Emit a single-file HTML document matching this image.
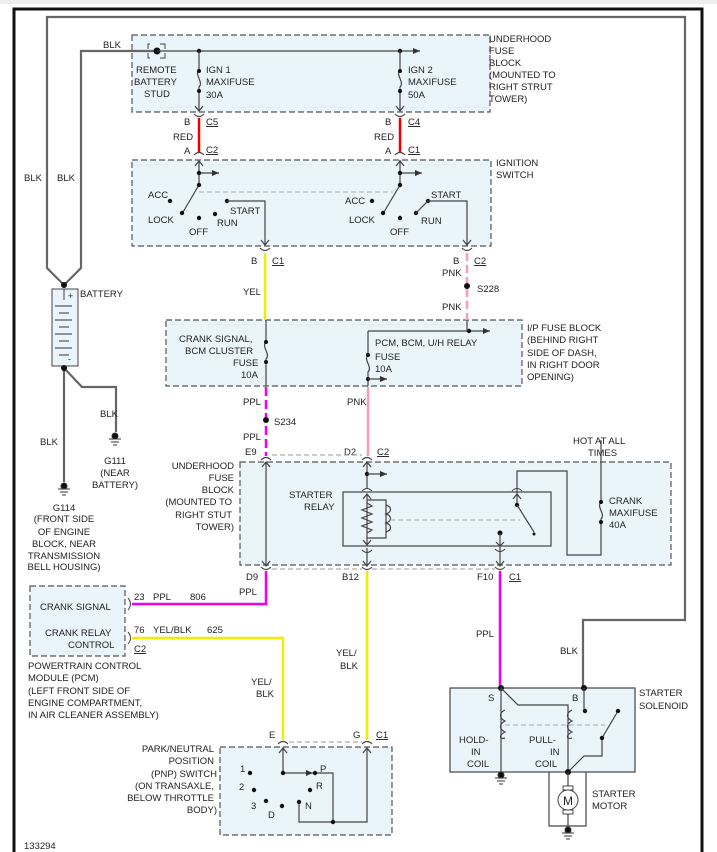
<!DOCTYPE html>
<html><head><meta charset="utf-8"><style>
html,body{margin:0;padding:0;background:#fff}
svg{display:block}
text{font-family:"Liberation Sans",sans-serif;font-size:9.5px;fill:#222}
.b{fill:#eaf5fb;stroke:#555;stroke-width:1.2;stroke-dasharray:6 3}
.w{fill:none;stroke:#444;stroke-width:1.2}
.g{fill:none;stroke:#666;stroke-width:2.2}
.d{fill:#111}
</style></head><body>
<svg width="717" height="852" viewBox="0 0 717 852" xmlns="http://www.w3.org/2000/svg">
<defs>
<marker id="ar" markerWidth="8" markerHeight="8" refX="7" refY="4" orient="auto" markerUnits="userSpaceOnUse"><path d="M0,1 L7,4 L0,7 z" fill="#333"/></marker>
</defs>
<rect x="0" y="0" width="717" height="4" fill="#eee"/>
<path d="M14,852 V9 H702 V852" fill="none" stroke="#111" stroke-width="3"/>
<!-- boxes -->
<rect class="b" x="132" y="35" width="358" height="77"/>
<rect class="b" x="132" y="160" width="359" height="86"/>
<rect class="b" x="166" y="320" width="356" height="66"/>
<rect class="b" x="240" y="462" width="431" height="103"/>
<rect class="b" x="30" y="586" width="95" height="70"/>
<rect class="b" x="220" y="747" width="172" height="88"/>
<rect x="450" y="688" width="185" height="84" fill="#eaf5fb" stroke="#444" stroke-width="1.2"/>
<rect x="343" y="492" width="208" height="54" fill="none" stroke="#444" stroke-width="1.2"/>
<!-- gray BLK loop -->
<path class="g" d="M64,285 L47,268 V17 H685 V620 H583 V688"/>
<path class="g" d="M64,285 L81,268 V51 H157"/>
<!-- battery -->
<rect x="52" y="289" width="26" height="77" fill="#eaf5fb" stroke="#444"/>
<line x1="64" y1="289" x2="64" y2="300" stroke="#444"/>
<text x="68" y="299" style="font-size:9px">+</text><text x="68" y="362" style="font-size:9px">-</text>
<g stroke="#333"><line x1="55" y1="306" x2="72" y2="306"/><line x1="59" y1="313" x2="69" y2="313"/><line x1="55" y1="320" x2="72" y2="320"/><line x1="59" y1="327" x2="69" y2="327"/><line x1="55" y1="334" x2="72" y2="334"/><line x1="59" y1="341" x2="69" y2="341"/><line x1="55" y1="348" x2="72" y2="348"/><line x1="59" y1="355" x2="69" y2="355"/></g>
<text x="80" y="297">BATTERY</text>
<path class="g" d="M64,368 V482"/><path class="g" d="M64,368 L82,387 H116 V432"/>
<circle class="d" cx="64" cy="368" r="3"/><circle class="d" cx="64" cy="285" r="3"/>
<!-- grounds -->
<g stroke="#333"><circle class="d" cx="64" cy="486" r="3"/><line x1="58" y1="489" x2="70" y2="489"/><line x1="60" y1="492" x2="68" y2="492"/><line x1="62" y1="495" x2="66" y2="495"/>
<circle class="d" cx="115" cy="436" r="3"/><line x1="109" y1="439" x2="121" y2="439"/><line x1="111" y1="442" x2="119" y2="442"/><line x1="113" y1="445" x2="117" y2="445"/></g>
<text x="100" y="417">BLK</text><text x="40" y="445">BLK</text>
<g text-anchor="middle"><text x="115" y="464">G111</text><text x="115" y="476">(NEAR</text><text x="115" y="488">BATTERY)</text>
<text x="64" y="511">G114</text><text x="64" y="522">(FRONT SIDE</text><text x="64" y="535">OF ENGINE</text><text x="64" y="547">BLOCK, NEAR</text><text x="64" y="559">TRANSMISSION</text><text x="64" y="570">BELL HOUSING)</text></g>
<text x="24" y="181">BLK</text><text x="57" y="181">BLK</text><text x="103" y="48">BLK</text>
<!-- top fuse block -->
<path d="M150,44 H148 V49 M148,53 V58 H150 M160,44 H165 V49 M165,53 V58 H160" fill="none" stroke="#444"/>
<circle class="d" cx="157" cy="51" r="3.5"/>
<line class="w" x1="157" y1="51" x2="420" y2="51" marker-end="url(#ar)"/>
<circle class="d" cx="199" cy="51" r="2.2"/><circle class="d" cx="400" cy="51" r="2.2"/>
<path class="w" d="M199,51 V70 C194,75 204,82 199,87 V110 M195,106 L199,111 L203,106"/>
<circle class="d" cx="199" cy="71" r="2"/><circle class="d" cx="199" cy="91" r="2"/>
<path class="w" d="M400,51 V70 C395,75 405,82 400,87 V110 M396,106 L400,111 L404,106"/>
<circle class="d" cx="400" cy="71" r="2"/><circle class="d" cx="400" cy="91" r="2"/>
<text x="136" y="73">REMOTE</text><text x="134" y="85">BATTERY</text><text x="144" y="97">STUD</text>
<text x="206" y="73">IGN 1</text><text x="206" y="85">MAXIFUSE</text><text x="206" y="98">30A</text>
<text x="408" y="73">IGN 2</text><text x="408" y="85">MAXIFUSE</text><text x="408" y="98">50A</text>
<text x="489" y="42">UNDERHOOD</text><text x="489" y="54">FUSE</text><text x="489" y="66">BLOCK</text><text x="489" y="78">(MOUNTED TO</text><text x="489" y="90">RIGHT STRUT</text><text x="489" y="102">TOWER)</text>
<!-- connectors helper drawn as arcs -->
<g fill="none" stroke="#444" stroke-width="1.1">
<path d="M194,114 Q199,119 204,114"/><path d="M395,114 Q400,119 405,114"/>
<path d="M194,155 Q199,150 204,155"/><path d="M395,155 Q400,150 405,155"/>
<path d="M260,248 Q265,253 270,248"/><path d="M462,248 Q467,253 472,248"/>
<path d="M261,460 Q266,455 271,460"/><path d="M362,460 Q367,455 372,460"/>
<path d="M261,567 Q266,572 271,567"/><path d="M362,567 Q367,572 372,567"/><path d="M495,567 Q500,572 505,567"/>
<path d="M278,744 Q283,739 288,744"/><path d="M362,744 Q367,739 372,744"/>
</g>
<line x1="199" y1="118" x2="199" y2="152" stroke="#e00" stroke-width="2.5"/>
<line x1="400" y1="118" x2="400" y2="152" stroke="#e00" stroke-width="2.5"/>
<text x="184" y="125">B</text><text x="206" y="125" text-decoration="underline">C5</text><text x="173" y="140">RED</text><text x="184" y="154">A</text><text x="206" y="153" text-decoration="underline">C2</text>
<text x="385" y="125">B</text><text x="408" y="125" text-decoration="underline">C4</text><text x="374" y="140">RED</text><text x="385" y="154">A</text><text x="408" y="153" text-decoration="underline">C1</text>
<!-- ignition switch -->
<line x1="199" y1="192" x2="393" y2="192" stroke="#aaa" stroke-dasharray="5 3"/>
<g class="w"><path d="M199,185 V160 M195,166 L199,161 L203,166"/><path d="M400,185 V160 M396,166 L400,161 L404,166"/></g>
<line class="w" x1="199" y1="173" x2="219" y2="173" marker-end="url(#ar)"/>
<line class="w" x1="400" y1="173" x2="422" y2="173" marker-end="url(#ar)"/>
<line class="w" x1="199" y1="185" x2="183" y2="212"/><line class="w" x1="400" y1="185" x2="384" y2="212"/>
<g class="d"><circle cx="199" cy="173" r="2.2"/><circle cx="199" cy="185" r="2.2"/><circle cx="170" cy="201" r="2.2"/><circle cx="182" cy="213" r="2.2"/><circle cx="199" cy="218" r="2.2"/><circle cx="215" cy="214" r="2.2"/><circle cx="227" cy="201" r="2.2"/>
<circle cx="400" cy="173" r="2.2"/><circle cx="400" cy="185" r="2.2"/><circle cx="372" cy="201" r="2.2"/><circle cx="383" cy="213" r="2.2"/><circle cx="400" cy="218" r="2.2"/><circle cx="416" cy="213" r="2.2"/><circle cx="428" cy="201" r="2.2"/></g>
<path class="w" d="M227,201 H265 V244 M261,240 L265,245 L269,240"/>
<path class="w" d="M416,213 L428,201 H467 V244 M463,240 L467,245 L471,240"/>
<text x="148" y="198">ACC</text><text x="148" y="223">LOCK</text><text x="189" y="235">OFF</text><text x="217" y="226">RUN</text><text x="230" y="214">START</text>
<text x="345" y="204">ACC</text><text x="349" y="223">LOCK</text><text x="390" y="235">OFF</text><text x="421" y="224">RUN</text><text x="431" y="198">START</text>
<text x="496" y="166">IGNITION</text><text x="496" y="178">SWITCH</text>
<!-- yel / pnk -->
<line x1="265" y1="253" x2="265" y2="320" stroke="#ee0" stroke-width="2.5"/>
<line x1="467" y1="253" x2="467" y2="320" stroke="#f7a0b4" stroke-width="2.5" stroke-dasharray="8 4"/>
<text x="251" y="264">B</text><text x="272" y="264" text-decoration="underline">C1</text><text x="243" y="295">YEL</text>
<text x="453" y="264">B</text><text x="474" y="264" text-decoration="underline">C2</text><text x="442" y="276">PNK</text><text x="442" y="310">PNK</text>
<circle class="d" cx="467" cy="286" r="3"/><text x="477" y="292">S228</text>
<!-- I/P fuse block -->
<path class="w" d="M266,320 V342 C261,347 271,354 266,359 V386"/><circle class="d" cx="266" cy="342" r="2"/><circle class="d" cx="266" cy="362" r="2"/>
<line class="w" x1="368" y1="331" x2="490" y2="331" marker-end="url(#ar)"/><circle class="d" cx="469" cy="331" r="2.2"/>
<line x1="467" y1="320" x2="467" y2="331" stroke="#444" stroke-width="1.2"/>
<path class="w" d="M368,331 V355 C363,360 373,367 368,372 V386"/><circle class="d" cx="368" cy="355" r="2"/><circle class="d" cx="368" cy="379" r="2"/>
<line class="w" x1="368" y1="379" x2="387" y2="379" marker-end="url(#ar)"/>
<text x="179" y="342">CRANK SIGNAL,</text><text x="185" y="354">BCM CLUSTER</text><text x="233" y="366">FUSE</text><text x="241" y="378">10A</text>
<text x="375" y="346">PCM, BCM, U/H RELAY</text><text x="375" y="360">FUSE</text><text x="375" y="372">10A</text>
<text x="527" y="331">I/P FUSE BLOCK</text><text x="527" y="343">(BEHIND RIGHT</text><text x="527" y="356">SIDE OF DASH,</text><text x="527" y="368">IN RIGHT DOOR</text><text x="527" y="380">OPENING)</text>
<line x1="266" y1="387" x2="266" y2="456" stroke="#e0e" stroke-width="2.5" stroke-dasharray="9 4"/>
<line x1="368" y1="387" x2="368" y2="456" stroke="#f7a0b4" stroke-width="2.5"/>
<text x="243" y="405">PPL</text><circle class="d" cx="266" cy="420" r="3"/><text x="274" y="425">S234</text><text x="243" y="440">PPL</text><text x="347" y="405">PNK</text>
<text x="245" y="455">E9</text><text x="344" y="455">D2</text><text x="377" y="455" text-decoration="underline">C2</text>
<line x1="272" y1="455" x2="362" y2="455" stroke="#999" stroke-dasharray="5 3"/>
<line x1="272" y1="569" x2="362" y2="569" stroke="#999" stroke-dasharray="5 3"/>
<line x1="372" y1="569" x2="495" y2="569" stroke="#999" stroke-dasharray="5 3"/>
<!-- fuse block 2 internals -->
<path class="w" d="M266,462 V565 M262,467 L266,462 L270,467 M262,561 L266,566 L270,561"/>
<path class="w" d="M367,462 V488 M363,467 L367,462 L371,467"/>
<circle class="d" cx="367" cy="474" r="2.2"/><line class="w" x1="367" y1="474" x2="387" y2="474" marker-end="url(#ar)"/>
<path d="M362,491 Q367,486 372,491" fill="none" stroke="#444"/>
<path class="w" d="M367,494 V545 M363,499 L367,494 L371,499 M363,540 L367,545 L371,540"/>
<path class="w" d="M367,500 H386 V538 H367"/>
<path class="w" d="M367,503 L372,506 L362,510 L372,514 L362,518 L372,522 L362,526 L372,530 L367,533"/>
<path class="w" d="M386,505 C392,507 392,512 386,514 C392,516 392,521 386,523 C392,525 392,530 386,532"/>
<line x1="390" y1="520" x2="520" y2="520" stroke="#aaa" stroke-dasharray="5 3"/>
<path class="w" d="M367,548 V565 M363,561 L367,566 L371,561"/><path d="M362,550 Q367,555 372,550" fill="none" stroke="#444"/>
<path class="w" d="M517,494 V471 H567 V555 H601 V440"/>
<path d="M512,491 Q517,486 522,491" fill="none" stroke="#444"/>
<path class="w" d="M517,494 V505 M513,499 L517,494 L521,499"/>
<circle class="d" cx="517" cy="505" r="2.2"/><line class="w" x1="517" y1="505" x2="534" y2="532"/><circle class="d" cx="534" cy="534" r="1.5"/>
<circle class="d" cx="500" cy="533" r="2.5"/><path class="w" d="M500,533 V565 M496,542 L500,546 L504,542 M496,561 L500,566 L504,561"/>
<path d="M495,549 Q500,554 505,549" fill="none" stroke="#444"/>
<rect x="597" y="495" width="8" height="26" fill="#eaf5fb"/>
<path class="w" d="M601,495 V502 C596,507 606,514 601,519 V525"/><circle class="d" cx="601" cy="502" r="2"/><circle class="d" cx="601" cy="522" r="2"/>
<text x="289" y="498">STARTER</text><text x="304" y="510">RELAY</text>
<text x="609" y="504">CRANK</text><text x="609" y="516">MAXIFUSE</text><text x="609" y="528">40A</text>
<text x="573" y="444">HOT AT ALL</text><text x="588" y="456">TIMES</text>
<g text-anchor="end"><text x="234" y="469">UNDERHOOD</text><text x="234" y="481">FUSE</text><text x="234" y="493">BLOCK</text><text x="232" y="505">(MOUNTED TO</text><text x="232" y="518">RIGHT STUT</text><text x="234" y="530">TOWER)</text></g>
<!-- lower wires -->
<path d="M266,571 V604 H132" fill="none" stroke="#e0e" stroke-width="2.5"/>
<line x1="367" y1="571" x2="367" y2="740" stroke="#ee0" stroke-width="2.5"/>
<path d="M132,638 H283 V740" fill="none" stroke="#ee0" stroke-width="2.5"/>
<line x1="500" y1="571" x2="500" y2="688" stroke="#e0e" stroke-width="2.5"/>
<text x="246" y="580">D9</text><text x="342" y="580">B12</text><text x="477" y="580">F10</text><text x="509" y="580" text-decoration="underline">C1</text>
<text x="239" y="595">PPL</text><text x="134" y="600">23</text><text x="153" y="600">PPL</text><text x="190" y="600">806</text>
<text x="134" y="633">76</text><text x="153" y="633">YEL/BLK</text><text x="207" y="633">625</text><text x="134" y="652" text-decoration="underline">C2</text>
<path d="M128,598 Q133,604 128,610 M128,632 Q133,638 128,644" fill="none" stroke="#444"/>
<text x="40" y="610">CRANK SIGNAL</text><text x="45" y="636">CRANK RELAY</text><text x="68" y="648">CONTROL</text>
<text x="28" y="669">POWERTRAIN CONTROL</text><text x="28" y="681">MODULE (PCM)</text><text x="28" y="694">(LEFT FRONT SIDE OF</text><text x="28" y="706">ENGINE COMPARTMENT,</text><text x="28" y="718">IN AIR CLEANER ASSEMBLY)</text>
<text x="251" y="685">YEL/</text><text x="256" y="697">BLK</text><text x="336" y="656">YEL/</text><text x="340" y="669">BLK</text>
<text x="476" y="637">PPL</text><text x="560" y="654">BLK</text>
<!-- PNP -->
<text x="269" y="738">E</text><text x="353" y="738">G</text><text x="376" y="738" text-decoration="underline">C1</text>
<line x1="289" y1="742" x2="362" y2="742" stroke="#999" stroke-dasharray="5 3"/>
<path class="w" d="M283,748 V773 M279,753 L283,748 L287,753"/>
<line class="w" x1="283" y1="773" x2="313" y2="773" marker-end="url(#ar)"/>
<path class="w" d="M315,773 H333 V822 M299,802 V822 H367 V748 M363,753 L367,748 L371,753"/>
<g class="d"><circle cx="250" cy="773" r="2.2"/><circle cx="254" cy="790" r="2.2"/><circle cx="266" cy="801" r="2.2"/><circle cx="282" cy="806" r="2.2"/><circle cx="283" cy="773" r="2.2"/><circle cx="315" cy="773" r="2.2"/><circle cx="310" cy="790" r="2.2"/><circle cx="299" cy="802" r="2.2"/><circle cx="333" cy="822" r="2.2"/></g>
<text x="240" y="772">1</text><text x="239" y="790">2</text><text x="251" y="809">3</text><text x="268" y="818">D</text><text x="320" y="772">P</text><text x="316" y="789">R</text><text x="305" y="809">N</text>
<g text-anchor="end"><text x="214" y="752">PARK/NEUTRAL</text><text x="214" y="764">POSITION</text><text x="217" y="777">(PNP) SWITCH</text><text x="214" y="789">(ON TRANSAXLE,</text><text x="214" y="801">BELOW THROTTLE</text><text x="217" y="813">BODY)</text></g>
<text x="24" y="849">133294</text>
<!-- solenoid -->
<circle class="d" cx="501" cy="688" r="3"/><circle class="d" cx="584" cy="688" r="3"/>
<path class="w" d="M501,688 V772 M501,688 L518,705 H568 V772"/>
<path class="w" d="M584,688 V710"/><circle class="d" cx="585" cy="711" r="2.2"/>
<path class="w" d="M505,710 C499,713 499,718 505,721 C499,724 499,729 505,732 C499,735 499,740 505,738"/>
<path class="w" d="M572,710 C566,713 566,718 572,721 C566,724 566,729 572,732 C566,735 566,740 572,738"/>
<line x1="505" y1="725" x2="605" y2="725" stroke="#aaa" stroke-dasharray="5 3"/>
<path class="w" d="M568,772 L584,756 H602 V738 L618,711"/><circle class="d" cx="602" cy="738" r="2.2"/><circle class="d" cx="618" cy="711" r="2.2"/>
<circle class="d" cx="568" cy="772" r="3"/>
<path class="w" d="M549,772 V826 H586 V772 M568,772 V790 M568,810 V830"/>
<rect x="563" y="786" width="10" height="4" fill="#fff" stroke="#444"/><rect x="563" y="810" width="10" height="4" fill="#fff" stroke="#444"/>
<circle cx="568" cy="800" r="10" fill="#fff" stroke="#444"/><text x="568" y="805" text-anchor="middle" style="font-size:12px">M</text>
<g stroke="#333"><circle class="d" cx="501" cy="775" r="3"/><line x1="495" y1="778" x2="507" y2="778"/><line x1="497" y1="781" x2="505" y2="781"/><line x1="499" y1="784" x2="503" y2="784"/>
<circle class="d" cx="568" cy="830" r="3"/><line x1="562" y1="833" x2="574" y2="833"/><line x1="564" y1="836" x2="572" y2="836"/><line x1="566" y1="839" x2="570" y2="839"/></g>
<text x="488" y="701">S</text><text x="572" y="701">B</text>
<text x="459" y="743">HOLD-</text><text x="471" y="755">IN</text><text x="467" y="767">COIL</text>
<text x="529" y="743">PULL-</text><text x="550" y="755">IN</text><text x="535" y="767">COIL</text>
<text x="639" y="696">STARTER</text><text x="639" y="709">SOLENOID</text><text x="592" y="797">STARTER</text><text x="592" y="809">MOTOR</text>
</svg>
</body></html>
